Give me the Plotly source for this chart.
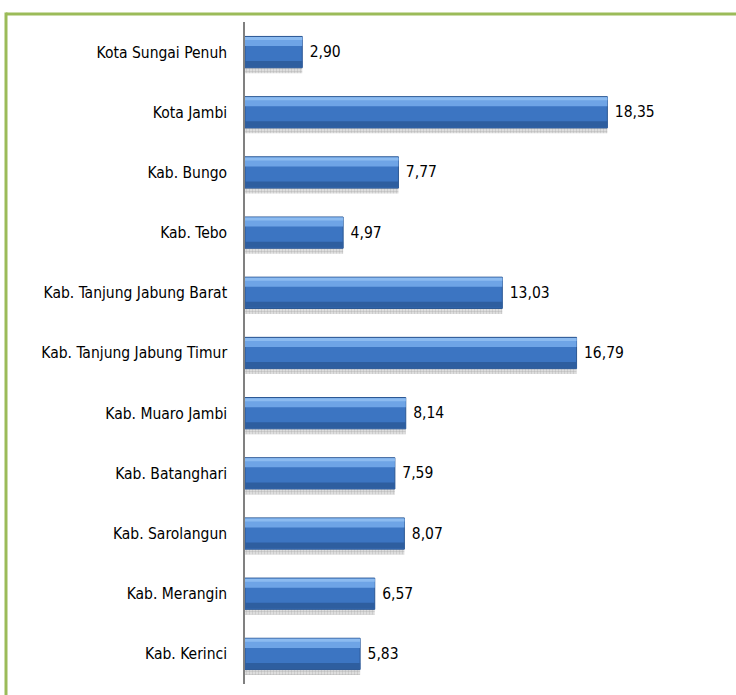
import plotly.graph_objects as go

# Data (top-to-bottom as shown in reference)
regions = ["Kota Sungai Penuh", "Kota Jambi", "Kab. Bungo", "Kab. Tebo",
           "Kab. Tanjung Jabung Barat", "Kab. Tanjung Jabung Timur",
           "Kab. Muaro Jambi", "Kab. Batanghari", "Kab. Sarolangun",
           "Kab. Merangin", "Kab. Kerinci"]
values = [2.90, 18.35, 7.77, 4.97, 13.03, 16.79, 8.14, 7.59, 8.07, 6.57, 5.83]

# plot bottom-to-top
cats = regions[::-1]
vals = values[::-1]
labels = [" " + f"{v:.2f}".replace(".", ",") for v in vals]

FONT = "DejaVu Sans Condensed, Liberation Sans Narrow, Arial Narrow, sans-serif"
FS = 15.5
BW = 0.52

fig = go.Figure()
# shadow under bar (dotted grey)
fig.add_trace(go.Bar(y=cats, x=vals, orientation="h", width=0.09, offset=-BW/2 - 0.09,
                     marker=dict(color="rgba(255,255,255,0)", line=dict(width=0),
                                 pattern=dict(shape=".", fgcolor="#9a9a9a", bgcolor="#e6e6e6",
                                              size=3, solidity=0.5)),
                     hoverinfo="skip", showlegend=False))
# main bar
fig.add_trace(go.Bar(y=cats, x=vals, orientation="h", width=BW, offset=-BW/2,
                     marker=dict(color="#3C75C2", line=dict(color="#2B5793", width=1)),
                     text=labels, textposition="outside", cliponaxis=False,
                     textfont=dict(family=FONT, size=FS, color="#000000"),
                     hoverinfo="skip", showlegend=False))
# lower darker band
fig.add_trace(go.Bar(y=cats, x=vals, orientation="h", width=0.10, offset=-BW/2 + 0.01,
                     marker=dict(color="#2E5E9F", line=dict(width=0)),
                     hoverinfo="skip", showlegend=False))
# upper highlight
fig.add_trace(go.Bar(y=cats, x=vals, orientation="h", width=0.15, offset=BW/2 - 0.16,
                     marker=dict(color="#6EA4E6", line=dict(width=0)),
                     hoverinfo="skip", showlegend=False))
fig.add_trace(go.Bar(y=cats, x=vals, orientation="h", width=0.05, offset=BW/2 - 0.06,
                     marker=dict(color="#8CBBF0", line=dict(width=0)),
                     hoverinfo="skip", showlegend=False))

W, H = 736, 695
L, R, T, B = 245, 21, 22, 11
pw, ph = W - L - R, H - T - B

def px_x(x):
    return (x - L) / pw

def px_y(y):
    return (H - B - y) / ph

green = "#9BBB59"
fig.add_shape(type="line", xref="paper", yref="paper", x0=px_x(6), x1=px_x(740),
              y0=px_y(14), y1=px_y(14), line=dict(color=green, width=3))
fig.add_shape(type="line", xref="paper", yref="paper", x0=px_x(6), x1=px_x(6),
              y0=px_y(12.5), y1=px_y(700), line=dict(color=green, width=3))

fig.update_layout(
    width=W, height=H,
    margin=dict(l=L, r=R, t=T, b=B),
    barmode="overlay",
    paper_bgcolor="white", plot_bgcolor="white",
    font=dict(family=FONT, size=FS, color="#000000"),
    xaxis=dict(range=[0, 23.8], showgrid=False, zeroline=False, showticklabels=False,
               showline=False, fixedrange=True),
    yaxis=dict(showgrid=False, zeroline=False, showline=True, linecolor="#808080",
               linewidth=1.5, ticks="", ticklabelstandoff=13,
               tickfont=dict(family=FONT, size=FS, color="#000000"),
               range=[-0.5, 10.5], fixedrange=True),
)

fig.write_html("out.html", config={"displayModeBar": False},
               post_script="document.body.style.margin='0';")
